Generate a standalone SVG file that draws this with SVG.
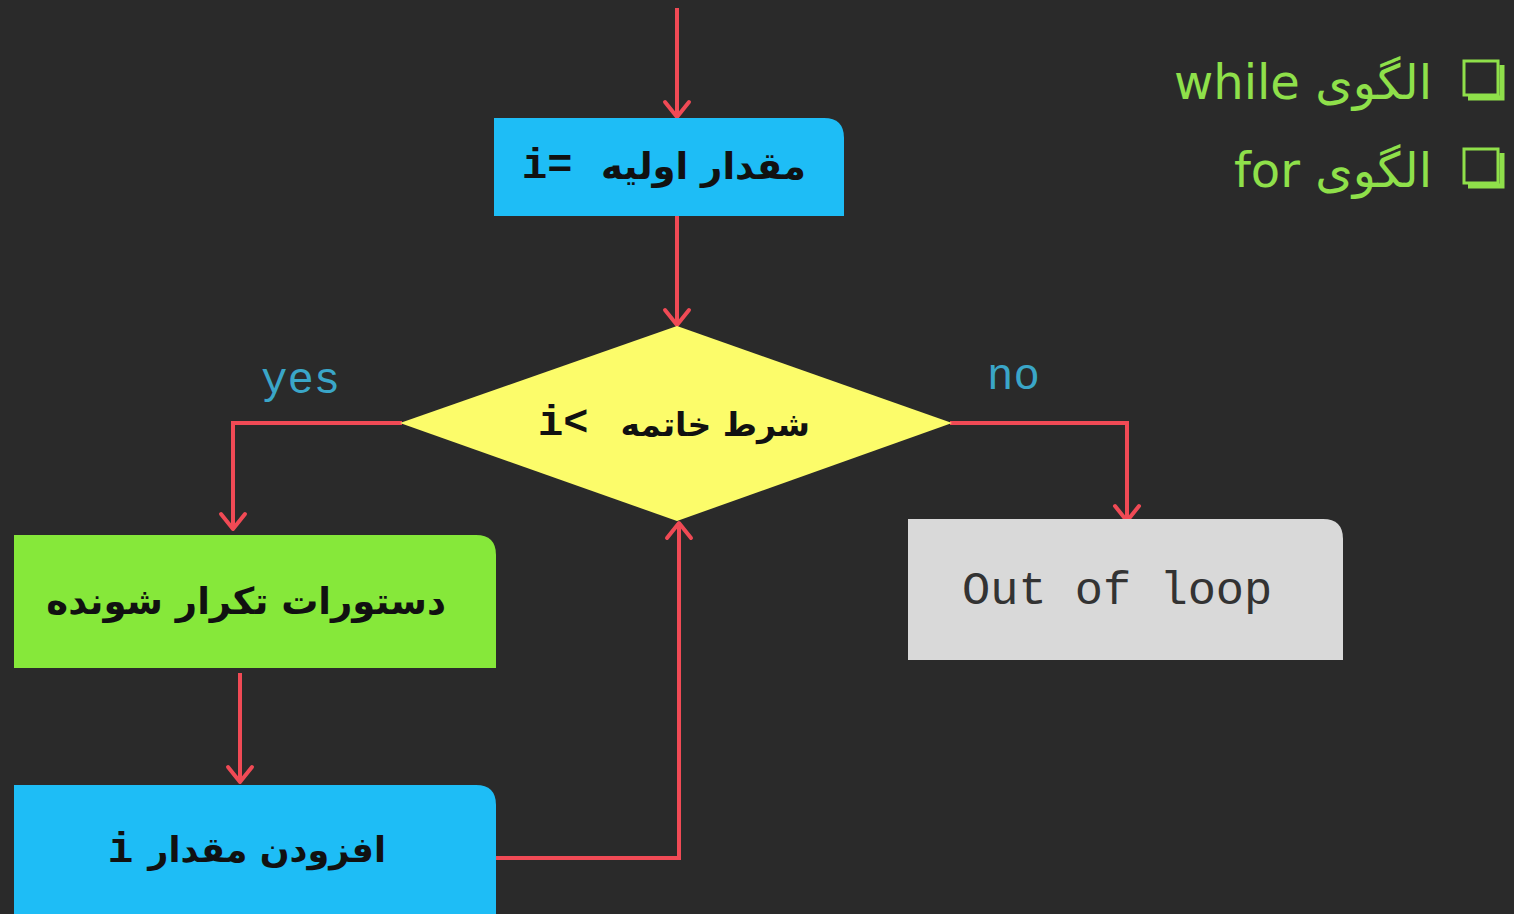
<svg xmlns="http://www.w3.org/2000/svg" width="1514" height="914" viewBox="0 0 1514 914">
  <defs>
    <!-- open chevron arrowhead, drawn pointing along +x -->
    <marker id="arrow" viewBox="0 0 30 30" refX="27" refY="15" markerWidth="30" markerHeight="30" markerUnits="userSpaceOnUse" orient="auto">
      <path d="M12,3 L27,15 L12,27" fill="none" stroke="#f04a55" stroke-width="4" stroke-linecap="round" stroke-linejoin="round"/>
    </marker>
    <style>
      .bg { fill: #2a2a2a; }
      .wire { fill: none; stroke: #f04a55; stroke-width: 4; stroke-linejoin: miter; }
      .fa { font-family: "DejaVu Sans", "Noto Sans", sans-serif; font-weight: bold; fill: #111; }
      .mono { font-family: "Liberation Mono", "DejaVu Sans Mono", monospace; }
      .code { font-weight: bold; fill: #111; font-size: 42px; }
      .lbl { fill: #3aa6c8; font-size: 44px; }
      .legend { font-family: "DejaVu Sans", "Noto Sans", sans-serif; fill: #8fe04a; font-size: 48px; }
    </style>
  </defs>

  <rect class="bg" x="0" y="0" width="1514" height="914"/>

  <!-- connectors -->
  <g id="connectors">
    <path class="wire" d="M677,8 L677,117" marker-end="url(#arrow)"/>
    <path class="wire" d="M677,216 L677,325" marker-end="url(#arrow)"/>
    <path class="wire" d="M402,423 L233,423 L233,529" marker-end="url(#arrow)"/>
    <path class="wire" d="M950,423 L1127,423 L1127,521" marker-end="url(#arrow)"/>
    <path class="wire" d="M240,673 L240,782" marker-end="url(#arrow)"/>
    <path class="wire" d="M496,858 L679,858 L679,523" marker-end="url(#arrow)"/>
    <text class="mono lbl" x="261" y="393">yes</text>
    <text class="mono lbl" x="987" y="389">no</text>
  </g>

  <!-- initial value -->
  <g id="init">
    <path d="M494,118 H824 Q844,118 844,138 V216 H494 Z" fill="#1ebdf6"/>
    <text class="mono code" x="522" y="178">i=</text>
    <text class="fa" x="806" y="179" font-size="37" direction="rtl" text-anchor="start">مقدار اولیه</text>
  </g>

  <!-- loop condition -->
  <g id="condition">
    <polygon points="677,326 952,423 677,521 400,423" fill="#fcfc6a"/>
    <text class="mono code" x="538" y="435">i&lt;</text>
    <text class="fa" x="810" y="436" font-size="33" direction="rtl" text-anchor="start">شرط خاتمه</text>
  </g>

  <!-- loop body -->
  <g id="body">
    <path d="M14,535 H476 Q496,535 496,555 V668 H14 Z" fill="#86e83a"/>
    <text class="fa" x="446" y="614" font-size="37" direction="rtl" text-anchor="start">دستورات تکرار شونده</text>
  </g>

  <!-- increment -->
  <g id="increment">
    <path d="M14,785 H476 Q496,785 496,805 V914 H14 Z" fill="#1ebdf6"/>
    <text class="mono code" x="108" y="862">i</text>
    <text class="fa" x="386" y="862" font-size="35" direction="rtl" text-anchor="start">افزودن مقدار</text>
  </g>

  <!-- exit -->
  <g id="exit">
    <path d="M908,519 H1323 Q1343,519 1343,539 V660 H908 Z" fill="#d9d9d9"/>
    <text class="mono" x="962" y="604" font-size="47" fill="#333">Out of loop</text>
  </g>

  <!-- legend -->
  <g id="legend-while">
    <text class="legend" x="1432" y="99" direction="rtl" text-anchor="start">الگوی while</text>
    <g fill="none" stroke="#8fe04a">
      <rect x="1464" y="61" width="34" height="34" stroke-width="3"/>
      <path d="M1468,98 H1502 V65" stroke-width="5"/>
    </g>
  </g>
  <g id="legend-for">
    <text class="legend" x="1432" y="187" direction="rtl" text-anchor="start">الگوی for</text>
    <g fill="none" stroke="#8fe04a">
      <rect x="1464" y="149" width="34" height="34" stroke-width="3"/>
      <path d="M1468,186 H1502 V153" stroke-width="5"/>
    </g>
  </g>
</svg>
